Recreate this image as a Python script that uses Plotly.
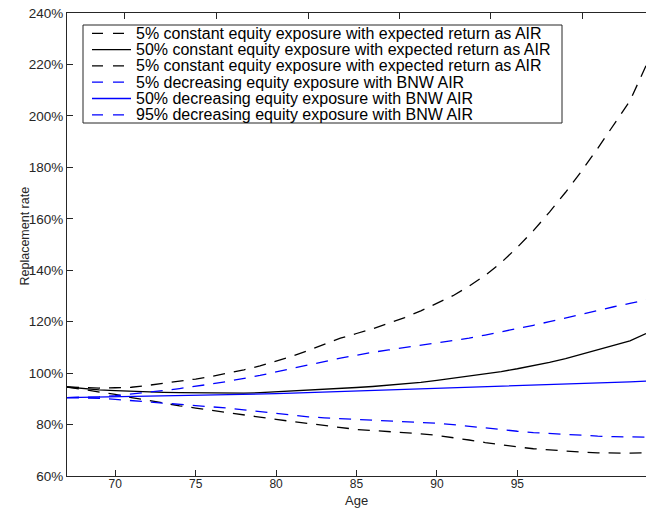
import plotly.graph_objects as go

# Retirement ages (years)
ages = list(range(67, 104))

# Replacement rate (%) by age for each strategy / percentile
const_5 = [94.6, 94.3, 94.2, 94.3, 94.5, 95.2, 96.0, 96.8, 97.7, 98.7,
           99.9, 101.3, 102.8, 104.6, 106.6, 108.8, 111.1, 113.6, 115.4, 117.2,
           119.4, 121.6, 124.2, 127.0, 130.1, 133.8, 138.0, 143.0, 148.9, 155.4,
           162.6, 170.3, 178.6, 187.4, 196.4, 205.8, 219.5]
const_50 = [94.6, 94.0, 93.5, 93.2, 92.9, 92.7, 92.5, 92.4, 92.3, 92.2,
            92.2, 92.2, 92.4, 92.7, 93.0, 93.3, 93.6, 94.0, 94.4, 94.8,
            95.3, 95.8, 96.4, 97.2, 98.0, 98.8, 99.7, 100.6, 101.7, 102.9,
            104.2, 105.6, 107.3, 109.0, 110.5, 112.5, 115.4]
const_95 = [94.6, 93.6, 92.8, 91.7, 90.5, 89.4, 88.3, 87.3, 86.4, 85.5,
            84.5, 83.6, 82.8, 82.0, 81.2, 80.4, 79.5, 78.7, 78.1, 77.7,
            77.3, 76.9, 76.4, 75.8, 75.0, 74.0, 73.0, 72.1, 71.3, 70.6,
            70.1, 69.6, 69.3, 69.0, 68.9, 68.9, 69.0]
decr_5 = [90.5, 90.6, 90.8, 91.2, 91.8, 92.5, 93.2, 94.0, 94.8, 95.8,
          96.8, 97.9, 99.1, 100.5, 101.9, 103.2, 104.5, 105.8, 107.0, 108.1,
          109.0, 109.9, 110.7, 111.6, 112.5, 113.6, 114.8, 116.0, 117.3, 118.6,
          120.0, 121.5, 123.0, 124.4, 125.8, 127.1, 128.5]
decr_50 = [90.5, 90.6, 90.7, 90.8, 90.9, 91.0, 91.1, 91.2, 91.3, 91.4,
           91.5, 91.6, 91.8, 92.0, 92.2, 92.4, 92.6, 92.8, 93.0, 93.2,
           93.4, 93.6, 93.8, 94.0, 94.2, 94.4, 94.6, 94.8, 95.0, 95.2,
           95.4, 95.6, 95.8, 96.0, 96.3, 96.6, 96.9]
decr_95 = [90.5, 90.4, 90.2, 89.8, 89.3, 88.9, 88.5, 88.0, 87.6, 87.0,
           86.4, 85.7, 85.0, 84.2, 83.5, 83.0, 82.6, 82.3, 82.0, 81.8,
           81.6, 81.3, 81.0, 80.5, 80.0, 79.3, 78.7, 78.0, 77.4, 76.9,
           76.5, 76.1, 75.8, 75.5, 75.3, 75.2, 75.1]

series_names = [
    "5% constant equity exposure with expected return as AIR",
    "50% constant equity exposure with expected return as AIR",
    "5% constant equity exposure with expected return as AIR",
    "5% decreasing equity exposure with BNW AIR",
    "50% decreasing equity exposure with BNW AIR",
    "95% decreasing equity exposure with BNW AIR",
]
series_values = [const_5, const_50, const_95, decr_5, decr_50, decr_95]

x_ticks = [70, 75, 80, 85, 90, 95]
y_ticks = [60, 80, 100, 120, 140, 160, 180, 200, 220, 240]
y_tick_text = [f"{v}%" for v in y_ticks]
top_ticks = [70.6, 76.3, 82.0, 87.65, 93.35, 99.05]

BLACK = "#000000"
BLUE = "#0000ff"
AXIS = "#262626"
FONT = "Liberation Sans, Arial, Helvetica"
DASH = "12px,9px"
styles = [
    (BLACK, DASH), (BLACK, "solid"), (BLACK, DASH),
    (BLUE, DASH), (BLUE, "solid"), (BLUE, DASH),
]

W, H = 646, 508
M_L, M_R, M_T, M_B = 67, 0, 13, 32
PW, PH = W - M_L - M_R, H - M_T - M_B


def px_x(p):
    return (p - M_L) / PW


def px_y(p):
    return (H - M_B - p) / PH


fig = go.Figure()
for name, vals, (color, dash) in zip(series_names, series_values, styles):
    fig.add_trace(go.Scatter(
        x=ages, y=vals, mode="lines", name=name, showlegend=False,
        line=dict(color=color, width=1.3, dash=dash),
    ))
# carrier for the top axis
fig.add_trace(go.Scatter(x=[], y=[], xaxis="x2", yaxis="y",
                         showlegend=False, hoverinfo="skip"))

# legend box in the upper-left corner
shapes = [dict(type="rect", xref="paper", yref="paper",
               x0=px_x(83), x1=px_x(562), y0=px_y(25), y1=px_y(123),
               line=dict(color=AXIS, width=1), fillcolor="white", layer="above")]
annotations = []
row_y = [33.3, 49.6, 65.9, 82.2, 98.5, 114.8]
for name, (color, dash), ry in zip(series_names, styles, row_y):
    shapes.append(dict(type="line", xref="paper", yref="paper",
                       x0=px_x(92), x1=px_x(131), y0=px_y(ry), y1=px_y(ry),
                       line=dict(color=color, width=1.3,
                                 dash="11px,10px" if dash != "solid" else "solid"),
                       layer="above"))
    annotations.append(dict(xref="paper", yref="paper", x=px_x(135), y=px_y(ry),
                            text=name, showarrow=False, xanchor="left",
                            yanchor="middle", borderpad=0,
                            font=dict(family=FONT, size=16, color="#000000")))

# axis titles
annotations.append(dict(xref="paper", yref="paper", x=px_x(24.5), y=px_y(236),
                        text="Replacement rate", showarrow=False, textangle=-90,
                        xanchor="center", yanchor="middle", borderpad=0,
                        font=dict(family=FONT, size=12.5, color=AXIS)))
annotations.append(dict(xref="paper", yref="paper", x=px_x(356.5), y=px_y(500),
                        text="Age", showarrow=False,
                        xanchor="center", yanchor="middle", borderpad=0,
                        font=dict(family=FONT, size=13, color=AXIS)))

fig.update_layout(
    width=W, height=H,
    margin=dict(l=M_L, r=M_R, t=M_T, b=M_B, autoexpand=False),
    paper_bgcolor="white", plot_bgcolor="white",
    font=dict(family=FONT, size=13, color=AXIS),
    shapes=shapes, annotations=annotations,
    xaxis=dict(range=[67, 103], tickvals=x_ticks, ticks="inside", ticklen=6,
               tickcolor=AXIS, showline=True, linecolor=AXIS, linewidth=1,
               showgrid=False, zeroline=False, tickfont=dict(size=12),
               ticklabelstandoff=-3),
    xaxis2=dict(range=[67, 103], overlaying="x", side="top", anchor="y",
                tickvals=top_ticks, ticks="inside", ticklen=6, tickcolor=AXIS,
                showticklabels=False, showline=True, linecolor=AXIS,
                linewidth=1, showgrid=False, zeroline=False),
    yaxis=dict(range=[60, 240], tickvals=y_ticks, ticktext=y_tick_text,
               ticks="inside", ticklen=6, tickcolor=AXIS, showline=True,
               linecolor=AXIS, linewidth=1, showgrid=False, zeroline=False,
               tickfont=dict(size=13.5)),
)

fig.write_html("out.html")
